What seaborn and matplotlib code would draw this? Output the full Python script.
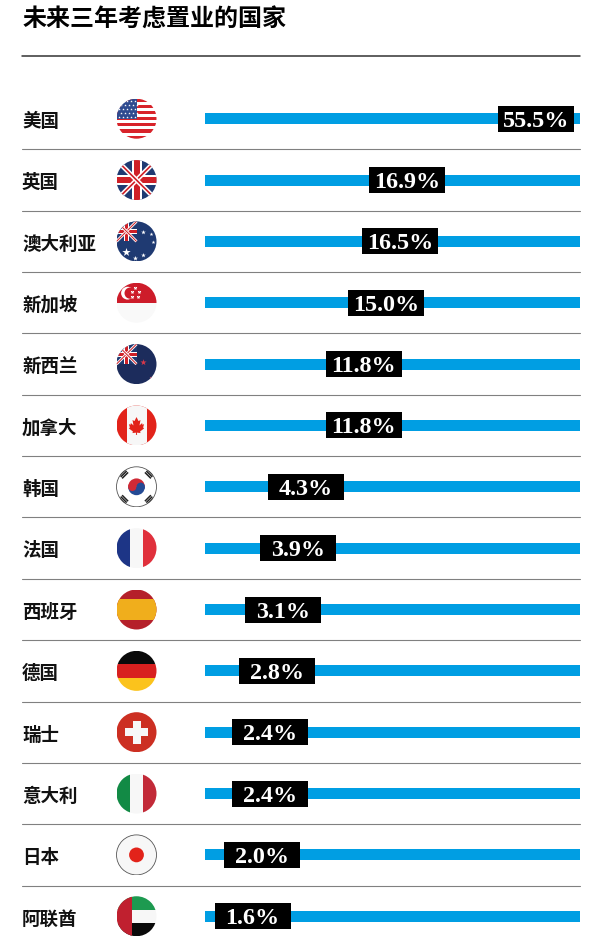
import numpy as np
import matplotlib
matplotlib.use("Agg")
import matplotlib.pyplot as plt
from matplotlib.lines import Line2D
from matplotlib.path import Path
from matplotlib.patches import Circle, Polygon, Rectangle, Wedge
from matplotlib.transforms import ScaledTranslation
import seaborn as sns

countries = ['美国', '英国', '澳大利亚', '新加坡', '新西兰', '加拿大', '韩国',
             '法国', '西班牙', '德国', '瑞士', '意大利', '日本', '阿联酋']
shares = [55.5, 16.9, 16.5, 15.0, 11.8, 11.8, 4.3, 3.9, 3.1, 2.8, 2.4, 2.4, 2.0, 1.6]
title = '未来三年考虑置业的国家'

# the original value axis is not linear, it is stretched at the low end
axis_stops = [0, 1.6, 2.0, 4.3, 11.8, 15, 16.5, 16.9, 55.5, 70]
axis_spots = [0, 47.5, 57.2, 100.5, 158.5, 181, 195, 202, 330.7, 375]

W, H = 604, 942
BLUE = '#009ee3'
OFF_WHITE = '#f7f7f7'
NAVY = '#1f3a72'
RED = '#cf2027'


def px_box(x0, y0, x1, y1):
    # pixel box (from the top left) to figure fractions
    return [x0 / W, 1 - y1 / H, (x1 - x0) / W, (y1 - y0) / H]


def forward(v):
    return np.interp(v, axis_stops, axis_spots)


def inverse(p):
    return np.interp(p, axis_spots, axis_stops)


def add(ax, artist, clip):
    ax.add_artist(artist)
    artist.set_clip_path(clip)
    return artist


def band(ax, clip, x0, y0, x1, y1, color):
    add(ax, Rectangle((x0, y0), x1 - x0, y1 - y0, color=color, lw=0), clip)


def star_dots(ax, clip, xs, ys, size, color='white'):
    pts = ax.scatter(xs, ys, s=size, color=color, marker='*', linewidths=0, zorder=5)
    pts.set_clip_path(clip)


def union_jack(ax, clip, x0, y0, x1, y1, scale=1.0):
    band(ax, clip, x0, y0, x1, y1, NAVY)
    cx, cy = (x0 + x1) / 2, (y0 + y1) / 2
    for a, b in [((x0, y0), (x1, y1)), ((x0, y1), (x1, y0))]:
        line = Line2D([a[0], b[0]], [a[1], b[1]], color='white', lw=3.4 * scale, solid_capstyle='butt')
        add(ax, line, clip)
        line = Line2D([a[0], b[0]], [a[1], b[1]], color=RED, lw=1.2 * scale, solid_capstyle='butt')
        add(ax, line, clip)
    w = (x1 - x0) / 2
    band(ax, clip, cx - 0.25 * w, y0, cx + 0.25 * w, y1, 'white')
    band(ax, clip, x0, cy - 0.25 * w, x1, cy + 0.25 * w, 'white')
    band(ax, clip, cx - 0.15 * w, y0, cx + 0.15 * w, y1, RED)
    band(ax, clip, x0, cy - 0.15 * w, x1, cy + 0.15 * w, RED)


def flag_us(ax, clip):
    band(ax, clip, -1, -1, 1, 1, 'white')
    for k in range(7):
        top = 1 - k * 2 / 6.5
        band(ax, clip, -1, top - 2 / 13, 1, top, '#d8232a')
    band(ax, clip, -1, -0.02, 0, 1, '#2f4a8f')
    xs, ys = [], []
    for r in range(5):
        for c in range(5):
            xs.append(-0.88 + c * 0.2 + (r % 2) * 0.09)
            ys.append(0.86 - r * 0.2)
    star_dots(ax, clip, xs, ys, 3.5)


def flag_uk(ax, clip):
    union_jack(ax, clip, -1, -1, 1, 1)


def flag_au(ax, clip):
    band(ax, clip, -1, -1, 1, 1, NAVY)
    union_jack(ax, clip, -1, 0, 0, 1, 0.6)
    star_dots(ax, clip, [0.35, 0.75, 0.85, 0.35, -0.5], [0.45, 0.35, -0.05, -0.7, -0.55],
              [12, 8, 8, 12, 40])
    star_dots(ax, clip, [-0.95, -0.1], [-0.9, -0.85], 14)


def flag_sg(ax, clip):
    band(ax, clip, -1, -1, 1, 0, '#f9f9f9')
    band(ax, clip, -1, 0, 1, 1, '#cd1c2a')
    add(ax, Circle((-0.45, 0.48), 0.32, color='white', lw=0), clip)
    add(ax, Circle((-0.32, 0.48), 0.28, color='#cd1c2a', lw=0), clip)
    star_dots(ax, clip, [-0.1, 0.12, 0.05, -0.25, -0.22], [0.72, 0.55, 0.28, 0.28, 0.55], 8)


def flag_nz(ax, clip):
    band(ax, clip, -1, -1, 1, 1, '#1c2c5c')
    union_jack(ax, clip, -1, 0, 0, 1, 0.6)
    star_dots(ax, clip, [0.3], [0.12], 22, '#d8384a')
    star_dots(ax, clip, [0.72], [-0.7], 10, '#b0506a')


def flag_ca(ax, clip):
    band(ax, clip, -1, -1, 1, 1, '#e2231a')
    band(ax, clip, -0.5, -1, 0.5, 1, OFF_WHITE)
    leaf = [(0, 0.42), (0.1, 0.22), (0.2, 0.27), (0.15, 0.0), (0.28, 0.12), (0.3, 0.03), (0.38, 0.07),
            (0.33, -0.1), (0.38, -0.15), (0.18, -0.3), (0.2, -0.38), (0.02, -0.36), (0.03, -0.47),
            (-0.03, -0.47), (-0.02, -0.36), (-0.2, -0.38), (-0.18, -0.3), (-0.38, -0.15), (-0.33, -0.1),
            (-0.38, 0.07), (-0.3, 0.03), (-0.28, 0.12), (-0.15, 0.0), (-0.2, 0.27), (-0.1, 0.22)]
    add(ax, Polygon(leaf, closed=True, color='#e2231a', lw=0), clip)


def flag_kr(ax, clip):
    band(ax, clip, -1, -1, 1, 1, 'white')
    add(ax, Wedge((0, 0), 0.42, 0, 180, color='#cf2a36', lw=0), clip)
    add(ax, Wedge((0, 0), 0.42, 180, 360, color='#244a94', lw=0), clip)
    add(ax, Circle((-0.21, 0), 0.21, color='#cf2a36', lw=0), clip)
    add(ax, Circle((0.21, 0), 0.21, color='#244a94', lw=0), clip)
    for sx, sy in [(-1, 1), (1, 1), (-1, -1), (1, -1)]:
        for off in [-0.1, 0, 0.1]:
            cx, cy = sx * 0.64 + sx * sy * off * 0.7, sy * 0.64 + off * 0.7
            dx, dy = 0.15 * sx * sy, -0.15
            line = Line2D([cx - dx, cx + dx], [cy - dy, cy + dy], color='#222222', lw=1.1, solid_capstyle='butt')
            add(ax, line, clip)


def vertical(colors):
    def draw(ax, clip):
        for k, c in enumerate(colors):
            band(ax, clip, -1 + k * 2 / 3, -1, -1 + (k + 1) * 2 / 3, 1, c)
    return draw


def flag_es(ax, clip):
    band(ax, clip, -1, -1, 1, 1, '#b5202a')
    band(ax, clip, -1, -0.52, 1, 0.52, '#f0ae1c')


def flag_de(ax, clip):
    band(ax, clip, -1, 1 / 3, 1, 1, '#0a0a0a')
    band(ax, clip, -1, -1 / 3, 1, 1 / 3, '#d8201f')
    band(ax, clip, -1, -1, 1, -1 / 3, '#fbc31c')


def flag_ch(ax, clip):
    band(ax, clip, -1, -1, 1, 1, '#cc2f22')
    band(ax, clip, -0.58, -0.2, 0.58, 0.2, OFF_WHITE)
    band(ax, clip, -0.2, -0.58, 0.2, 0.58, OFF_WHITE)


def flag_jp(ax, clip):
    band(ax, clip, -1, -1, 1, 1, OFF_WHITE)
    add(ax, Circle((0, 0), 0.37, color='#e2231a', lw=0), clip)


def flag_ae(ax, clip):
    band(ax, clip, -1, 1 / 3, 1, 1, '#1d9a50')
    band(ax, clip, -1, -1 / 3, 1, 1 / 3, OFF_WHITE)
    band(ax, clip, -1, -1, 1, -1 / 3, '#0a0a0a')
    band(ax, clip, -1, -1, -0.22, 1, '#c0202f')


flag_painters = [flag_us, flag_uk, flag_au, flag_sg, flag_nz, flag_ca, flag_kr,
                 vertical(['#1d3586', OFF_WHITE, '#e0303c']), flag_es, flag_de, flag_ch,
                 vertical(['#128a45', OFF_WHITE, '#c22a38']), flag_jp, flag_ae]

sns.set_theme(style='white')
plt.rcParams['font.family'] = ['Noto Sans CJK SC', 'DejaVu Sans']

fig = plt.figure(figsize=(W / 100, H / 100), dpi=100, facecolor='white')

row_px = 61.35
first_row = 118.7
top_px = first_row - row_px / 2
ax = fig.add_axes(px_box(205, top_px, 580, 942))
rows = np.arange(len(countries))

# the blue track runs the whole width in every row, the black box carries the value
sns.barplot(x=[axis_stops[-1]] * len(countries), y=countries, ax=ax, color=BLUE, saturation=1,
            width=11 / row_px, linewidth=0, orient='h')
box = Path([(-1, -0.354), (1, -0.354), (1, 0.354), (-1, 0.354), (-1, -0.354)], closed=True)
sns.scatterplot(x=shares, y=rows, ax=ax, marker=box, s=(75.6 * 0.72) ** 2, color='black',
                linewidth=0, zorder=3, clip_on=False, legend=False)
for r, v in zip(rows, shares):
    ax.text(v, r, f'{v:.1f}%', color='white', ha='center', va='center_baseline', zorder=4,
            family='Liberation Serif', fontweight='bold', fontsize=17.4)

ax.set_xscale('function', functions=(forward, inverse))
ax.set_xlim(axis_stops[0], axis_stops[-1])
ax.set_ylim((942 - top_px) / row_px - 0.5, -0.5)
ax.set_xlabel('')
ax.set_ylabel('')
ax.set_xticks([])
ax.set_xticks([], minor=True)
ax.set_yticks(rows)
ax.set_yticklabels(countries, ha='left', fontsize=13.3, fontweight='black', color='#111111')
ax.tick_params(axis='y', length=0, pad=(205 - 22) * 0.72)
nudge = ScaledTranslation(0, -0.8 / 100, fig.dpi_scale_trans)
for lab in ax.get_yticklabels():
    lab.set_transform(lab.get_transform() + nudge)
sns.despine(ax=ax, left=True, bottom=True)

for r in rows[:-1]:
    y_px = 1 - (top_px + (r + 1) * row_px) / H
    fig.add_artist(Line2D([22 / W, 580 / W], [y_px, y_px], color='#808080', lw=0.8))
fig.add_artist(Line2D([22 / W, 580 / W], [1 - 56 / H, 1 - 56 / H], color='#333333', lw=1.1))
fig.text(23 / W, 1 - 20 / H, title, fontsize=17.3, fontweight='black', color='black', va='center')

for r, paint in zip(rows, flag_painters):
    cy = first_row + r * row_px
    fax = fig.add_axes(px_box(116, cy - 20.5, 157, cy + 20.5))
    fax.set_xlim(-1.025, 1.025)
    fax.set_ylim(-1.025, 1.025)
    fax.axis('off')
    outline = Circle((0, 0), 1, transform=fax.transData, facecolor='none', edgecolor='#555555', lw=0.6)
    paint(fax, outline)
    # the two mostly white flags need a thin ring
    if countries[r] in ('韩国', '日本'):
        fax.add_patch(outline)

fig.savefig('out.png', dpi=100)
